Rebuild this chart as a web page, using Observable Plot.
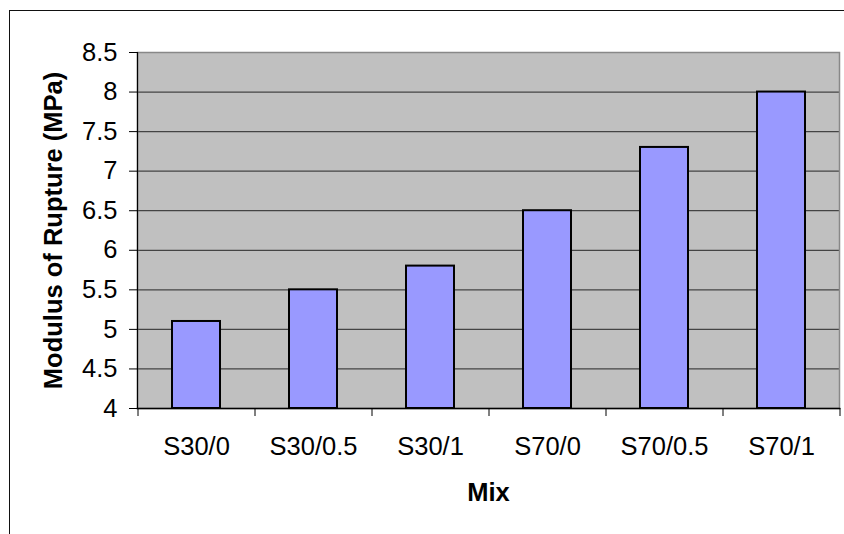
<!DOCTYPE html>
<html><head><meta charset="utf-8">
<script src="https://cdn.jsdelivr.net/npm/d3@7"></script>
<script src="https://cdn.jsdelivr.net/npm/@observablehq/plot@0.6"></script>
<style>
html,body{margin:0;padding:0;background:#fff;}
#wrap{position:relative;width:844px;height:534px;overflow:hidden;background:#fff;}
#chart{position:absolute;left:0;top:0;}
#border{position:absolute;left:8.5px;top:9.5px;width:900px;height:600px;border-left:1.5px solid #111;border-top:1.5px solid #111;pointer-events:none;}
</style></head><body>
<div id="wrap"><div id="chart"></div><div id="border"></div></div>
<script>
const mixes = ["S30/0", "S30/0.5", "S30/1", "S70/0", "S70/0.5", "S70/1"];
const modulus = [5.1, 5.5, 5.8, 6.5, 7.3, 8.0];
const yTicks = [4, 4.5, 5, 5.5, 6, 6.5, 7, 7.5, 8, 8.5];
const gridTicks = [4.5, 5, 5.5, 6, 6.5, 7, 7.5, 8];
const xTitle = "Mix";
const yTitle = "Modulus of Rupture (MPa)";

const data = mixes.map((m, i) => ({mix: m, value: modulus[i]}));

const W = 844, H = 534, mL = 137, mR = 5, mT = 52, mB = 126;
const step = (W - mL - mR) / mixes.length;
const fs = 25.5;

const chart = Plot.plot({
  width: W, height: H,
  marginLeft: mL, marginRight: mR, marginTop: mT, marginBottom: mB,
  style: {background: "transparent", fontFamily: "'Liberation Sans', Arial, sans-serif", fontSize: fs + "px", color: "#000"},
  x: {type: "band", domain: mixes, paddingInner: 0.59, paddingOuter: 0.295, label: null},
  y: {domain: [4, 8.5], label: null},
  marks: [
    Plot.frame({fill: "#c0c0c0"}),
    Plot.ruleY(gridTicks, {stroke: "#444", strokeWidth: 1.2}),
    Plot.frame({stroke: "#888", strokeWidth: 1.5}),
    Plot.barY(data, {x: "mix", y1: 4, y2: "value", fill: "#9999ff", stroke: "#000", strokeWidth: 2}),
    Plot.frame({anchor: "left", stroke: "#000", strokeWidth: 1.2}),
    Plot.frame({anchor: "bottom", stroke: "#000", strokeWidth: 1.5}),
    Plot.axisY({ticks: yTicks, tickSize: 8, tickPadding: 12, tickFormat: d => String(d), label: null, stroke: "#000", fontSize: fs}),
    Plot.axisX({tickSize: 0, tickPadding: 28, label: null, fontSize: fs}),
    Plot.axisX(mixes, {tickSize: 8, text: null, dx: -step / 2, label: null, stroke: "#000"}),
    Plot.axisX([mixes[mixes.length - 1]], {tickSize: 8, text: null, dx: step / 2, label: null, stroke: "#000"}),
    Plot.text([xTitle], {frameAnchor: "bottom", dy: 84, lineAnchor: "middle", textAnchor: "middle", fontWeight: "bold", fontSize: fs, fill: "#000"}),
    Plot.text([yTitle], {frameAnchor: "left", dx: -84, rotate: -90, lineAnchor: "middle", textAnchor: "middle", fontWeight: "bold", fontSize: fs, fill: "#000"})
  ]
});
document.getElementById("chart").appendChild(chart);
</script>
</body></html>
